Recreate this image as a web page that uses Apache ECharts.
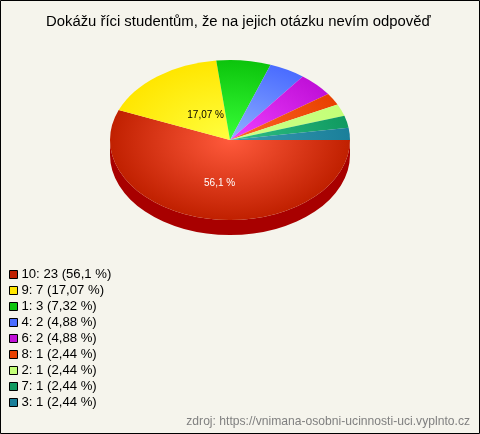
<!DOCTYPE html>
<html><head><meta charset="utf-8">
<style>html,body{margin:0;padding:0;background:#f5f4ec}#c{width:480px;height:434px}</style>
<script src="https://cdn.jsdelivr.net/npm/echarts@6/dist/echarts.min.js"></script>
</head><body><div id="c"></div>
<script>
var categories = ['10','9','1','4','6','8','2','7','3'];
var values = [23,7,3,2,2,1,1,1,1];
var percents = ['56,1','17,07','7,32','4,88','4,88','2,44','2,44','2,44','2,44'];
var edgeColors = ['#c02000','#ffe600','#0cc40c','#4a6cff','#c010d8','#e84000','#c4ff78','#109a60','#1a7f9a'];
var centerColors = ['#ff5a3c','#ffff40','#38ff38','#90b0ff','#f040ff','#ff6828','#ccff88','#30c088','#3a9ab0'];
var sideColors = ['#a80000','#c0b000','#089008','#3048c0','#900ca0','#b03000','#90c050','#087040','#105a70'];
var shownLabels = [true,true,false,false,false,false,false,false,false];
var labelColors = ['#ffffff','#000000'];

var title = 'Dokážu říci studentům, že na jejich otázku nevím odpověď';
var source = 'zdroj: https://vnimana-osobni-ucinnosti-uci.vyplnto.cz';

var CX = 230, CY = 140, RX = 120, RY = 80, DEPTH = 15;
var LABEL_DX = [1,12], LABEL_DY = [4,7];
var total = values.reduce(function(a,b){return a+b;},0);
var names = categories.map(function(c,i){return c+': '+values[i]+' ('+percents[i]+' %)';});

function wallPath(a0,a1){
  var s = Math.max(a0,0), e = Math.min(a1,Math.PI);
  if (e <= s) return null;
  var x0 = CX+RX*Math.cos(s), y0 = CY+RY*Math.sin(s);
  var x1 = CX+RX*Math.cos(e), y1 = CY+RY*Math.sin(e);
  return 'M'+x0+' '+y0+'A'+RX+' '+RY+' 0 0 1 '+x1+' '+y1+
         'L'+x1+' '+(y1+DEPTH)+'A'+RX+' '+RY+' 0 0 0 '+(x0)+' '+(y0+DEPTH)+'Z';
}

var acc = 0;
var series = categories.map(function(c,i){
  var a0 = acc/total*2*Math.PI; acc += values[i];
  var a1 = acc/total*2*Math.PI;
  return {
    type:'custom', name:names[i], coordinateSystem:'none', silent:true, animation:false,
    itemStyle:{color:edgeColors[i]},
    data:[values[i]],
    z: 2,
    renderItem:function(){
      var kids = [];
      var p = wallPath(a0,a1);
      if (p) kids.push({type:'path',shape:{pathData:p},style:{fill:sideColors[i]}});
      kids.push({
        type:'sector', x:CX, y:CY, scaleY:RY/RX,
        shape:{cx:0,cy:0,r0:0,r:RX,startAngle:a0,endAngle:a1,clockwise:true},
        style:{fill:new echarts.graphic.RadialGradient(0,0,RX,[
          {offset:0,color:centerColors[i]},{offset:1,color:edgeColors[i]}],true)}
      });
      if (shownLabels[i]){
        var m = (a0+a1)/2;
        kids.push({type:'text',
          x:CX+RX*0.5*Math.cos(m)+LABEL_DX[i], y:CY+RY*0.5*Math.sin(m)+LABEL_DY[i],
          style:{text:percents[i]+' %',fill:labelColors[i],font:'10px "Liberation Sans"',align:'center',verticalAlign:'middle'}});
      }
      return {type:'group',children:kids};
    }
  };
});

var chart = echarts.init(document.getElementById('c'),null,{renderer:'canvas'});
chart.setOption({
  animation:false,
  backgroundColor:'#f5f4ec',
  title:{text:title,left:46,top:9,padding:[5,0],textStyle:{fontFamily:'Liberation Sans',fontSize:14.85,fontWeight:'normal',color:'#000'}},
  legend:{orient:'vertical',left:9,top:268,itemWidth:8,itemHeight:8,itemGap:3,padding:0,icon:'rect',
    data:names,selectedMode:false,
    textStyle:{fontFamily:'Liberation Sans',fontSize:13.15,color:'#000',padding:[0,0,0,-1]},
    itemStyle:{borderColor:'#000',borderWidth:1}},
  graphic:[
    {type:'rect',z:-1,shape:{x:0.5,y:0.5,width:479,height:433},style:{fill:'none',stroke:'#000',lineWidth:1}},
    {type:'text',right:10,top:416,style:{text:source,fill:'#808080',font:'12.13px "Liberation Sans"'}}
  ],
  series:series
});
</script></body></html>
